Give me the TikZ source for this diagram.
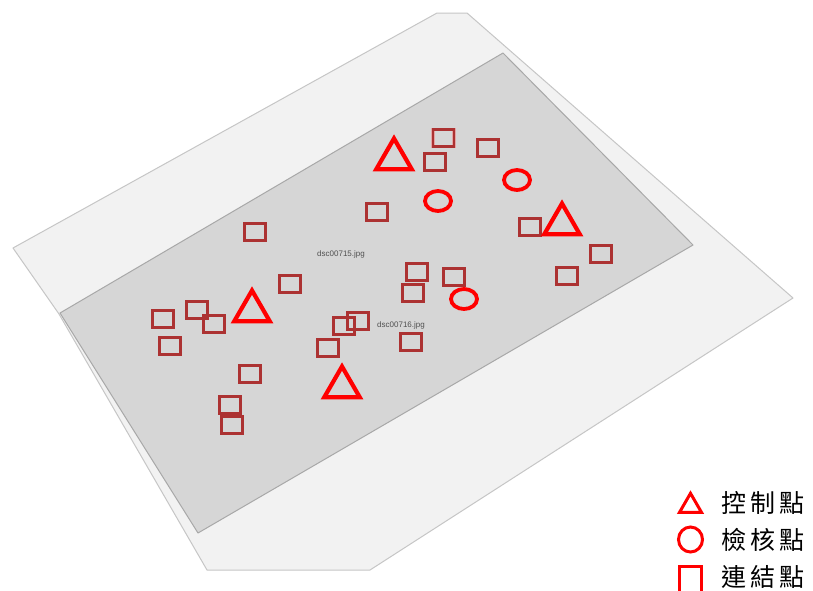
\documentclass[tikz,border=0pt]{standalone}
\usepackage{fontspec}
\setmainfont{Liberation Sans}
\newfontfamily\cjk{Noto Sans CJK TC}
\usetikzlibrary{shapes.geometric}
\definecolor{outerfill}{RGB}{242,242,242}
\definecolor{outerline}{RGB}{198,198,198}
\definecolor{innerfill}{RGB}{214,214,214}
\definecolor{innerline}{RGB}{168,168,168}
\definecolor{sqred}{RGB}{172,50,50}
\definecolor{sqhalo}{RGB}{228,165,165}
\definecolor{mkred}{RGB}{255,0,0}
\definecolor{imgtext}{RGB}{80,80,80}
\begin{document}
\begin{tikzpicture}[x=1pt,y=-1pt,
  sqmark/.style={rectangle, minimum width=21pt, minimum height=17pt, inner sep=0pt,
    draw=sqred, line width=2.1pt, preaction={draw=sqhalo, line width=3.8pt}},
  trimark/.style={regular polygon, regular polygon sides=3, minimum size=41pt,
    inner sep=0pt, draw=mkred, line width=4.2pt},
  cirmark/.style={ellipse, minimum width=26pt, minimum height=20pt, inner sep=0pt,
    draw=mkred, line width=3.8pt},
  imglabel/.style={font=\fontsize{8}{9}\selectfont, text=imgtext, inner sep=0pt},
  legtri/.style={regular polygon, regular polygon sides=3, minimum size=25.4pt,
    inner sep=0pt, draw=mkred, line width=3pt},
  legcir/.style={ellipse, minimum width=24pt, minimum height=25pt, inner sep=0pt,
    draw=mkred, line width=3pt},
  legsq/.style={rectangle, minimum width=22pt, minimum height=28pt, inner sep=0pt,
    draw=mkred, line width=3pt},
  legtext/.style={anchor=west, inner sep=0pt, font=\cjk\fontsize{25}{25}\selectfont},
  outerpoly/.style={fill=outerfill, draw=outerline, line width=1pt, line join=round},
  innerpoly/.style={fill=innerfill, draw=innerline, line width=1pt, line join=round}]
\useasboundingbox (0,0) rectangle (813,590);
\clip (0,0) rectangle (813,590);
\fill[white] (0,0) rectangle (813,590);
% photo footprints
\draw[outerpoly] (13,248) -- (437,13) -- (467,13) -- (793,298) -- (370,570)
  -- (207,570) -- (59,314) -- cycle;
\draw[innerpoly] (503,53) -- (693,245) -- (198,533) -- (60,313) -- cycle;
% image labels
\node[imglabel] (lbl15) at (341,254) {dsc00715.jpg};
\node[imglabel] (lbl16) at (401,325) {dsc00716.jpg};
% tie points
\node[sqmark] (sq1) at (443.5,138) {};
\node[sqmark] (sq2) at (435,162) {};
\node[sqmark] (sq3) at (488,148) {};
\node[sqmark] (sq4) at (377,212) {};
\node[sqmark] (sq5) at (530,227) {};
\node[sqmark] (sq6) at (255,232) {};
\node[sqmark] (sq7) at (290,284) {};
\node[sqmark] (sq8) at (163,319) {};
\node[sqmark] (sq9) at (197,310) {};
\node[sqmark] (sq10) at (214,324) {};
\node[sqmark] (sq11) at (170,346) {};
\node[sqmark] (sq12) at (358,321) {};
\node[sqmark] (sq13) at (344,326) {};
\node[sqmark] (sq14) at (328,348) {};
\node[sqmark] (sq15) at (417,272) {};
\node[sqmark] (sq16) at (454,277) {};
\node[sqmark] (sq17) at (413,293) {};
\node[sqmark] (sq18) at (567,276) {};
\node[sqmark] (sq19) at (601,254) {};
\node[sqmark] (sq20) at (411,342) {};
\node[sqmark] (sq21) at (250,374) {};
\node[sqmark] (sq22) at (230,405) {};
\node[sqmark] (sq23) at (232,425) {};
% check points
\node[cirmark] (c1) at (517,180) {};
\node[cirmark] (c2) at (438,201) {};
\node[cirmark] (c3) at (464,299) {};
% control points
\node[trimark] (t1) at (394,159) {};
\node[trimark] (t2) at (562,224) {};
\node[trimark] (t3) at (252,311) {};
\node[trimark] (t4) at (342,387) {};
% legend
\node[legtri] (ltri) at (690.5,506) {};
\node[legcir] (lcir) at (690.5,539.5) {};
\node[legsq] (lsq) at (690.5,580.5) {};
\node[legtext] (ttri) at (721,503) {控\kern4pt 制\kern4pt 點};
\node[legtext] (tcir) at (721,540) {檢\kern4pt 核\kern4pt 點};
\node[legtext] (tsq) at (721,577) {連\kern4pt 結\kern4pt 點};
\end{tikzpicture}
\end{document}
